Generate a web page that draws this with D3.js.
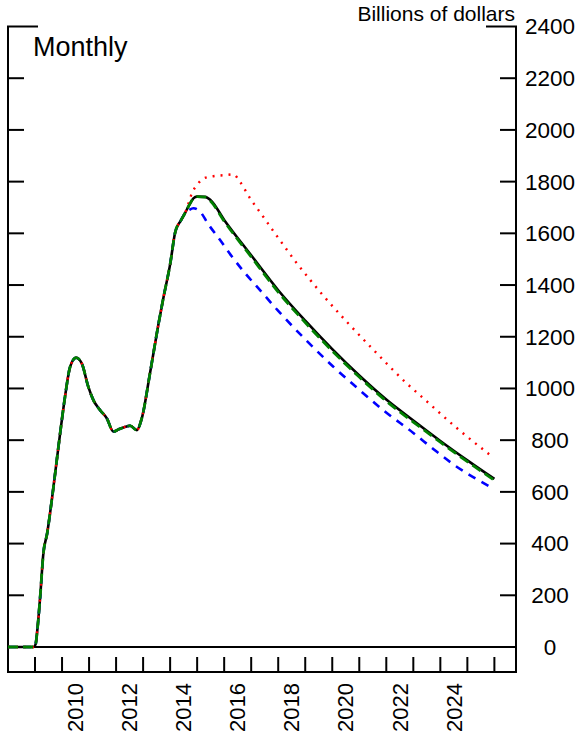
<!DOCTYPE html>
<html>
<head>
<meta charset="utf-8">
<script src="https://d3js.org/d3.v7.min.js"></script>
<style>
  body { margin: 0; background: #fff; }
  svg text { font-family: "Liberation Sans", Arial, sans-serif; fill: #000; }
</style>
</head>
<body>
<svg class="chart" width="583" height="733"></svg>
<script>
// shared path up to the point where the scenarios split
const commonYears = [2008.0, 2008.95, 2009.02, 2009.08, 2009.19, 2009.31, 2009.45, 2009.62, 2009.93, 2010.11,
  2010.30, 2010.52, 2010.73, 2010.97, 2011.16, 2011.41, 2011.66, 2011.9, 2012.1, 2012.35, 2012.52, 2012.77,
  2012.95, 2013.26, 2013.57, 2013.75, 2014.0, 2014.19, 2014.4, 2014.55];
const commonVals = [0, 0, 10, 60, 193, 363, 440, 568, 827, 968,
  1084, 1119, 1097, 1007, 955, 916, 884, 833, 842, 852, 856, 839,
  884, 1062, 1250, 1350, 1480, 1605, 1650, 1678];

// scenarios after the split
const blackYears = [2014.7, 2014.86, 2015.0, 2015.3, 2015.5, 2016, 2017, 2018, 2019, 2020, 2021, 2022, 2023, 2024, 2025, 2026];
const blackVals  = [1708, 1735, 1742, 1741, 1728, 1652, 1515, 1380, 1262, 1152, 1050, 957, 876, 797, 722, 650];

const greenYears = [2014.7, 2014.86, 2015.0, 2015.3, 2015.5, 2016, 2017, 2018, 2019, 2020, 2021, 2022, 2023, 2024, 2025, 2026];
const greenVals  = [1708, 1735, 1742, 1740, 1724, 1647, 1509, 1373, 1255, 1145, 1044, 951, 870, 792, 717, 645];

const redYears = [2014.7, 2014.8, 2014.99, 2015.23, 2015.6, 2016.0, 2016.34, 2016.6, 2016.96, 2017.4, 2017.83, 2018.26,
  2018.69, 2019.19, 2019.66, 2020.5, 2021.5, 2022.7, 2023.5, 2024.62, 2025.85];
const redVals  = [1722, 1754, 1786, 1812, 1821, 1825, 1828, 1797, 1735, 1671, 1607, 1545,
  1484, 1419, 1360, 1262, 1152, 1025, 950, 846, 742];

const blueYears = [2014.7, 2014.86, 2015.09, 2015.42, 2015.85, 2016.28, 2016.78, 2017.27, 2018, 2019, 2020, 2021,
  2021.96, 2023, 2023.75, 2024.5, 2025.8];
const blueVals  = [1690, 1697, 1686, 1634, 1574, 1511, 1445, 1387, 1300, 1190, 1088, 995,
  910, 828, 765, 705, 622];

const yTicks = [0, 200, 400, 600, 800, 1000, 1200, 1400, 1600, 1800, 2000, 2200, 2400];
const yearTicks = d3.range(2009, 2027);
const yearLabels = [2010, 2012, 2014, 2016, 2018, 2020, 2022, 2024];

const svg = d3.select(".chart");
const pLeft = 8, pRight = 516, pTop = 26.5, pZero = 647, pBottom = 672;

const xs = d3.scaleLinear().domain([2008, 2026.8]).range([pLeft, pRight]);
const ys = d3.scaleLinear().domain([0, 2400]).range([pZero, pTop]);

function build(years, vals) {
  const pts = commonYears.map((d, i) => [d, commonVals[i]]);
  return pts.concat(years.map((d, i) => [d, vals[i]]));
}

const line = d3.line()
  .x(d => xs(d[0]))
  .y(d => ys(d[1]))
  .curve(d3.curveMonotoneX);

// frame
const frame = svg.append("g").attr("stroke", "#000").attr("stroke-width", 2).attr("fill", "none");
frame.append("line").attr("x1", pLeft).attr("x2", pLeft).attr("y1", pTop).attr("y2", pBottom);
frame.append("line").attr("x1", pRight).attr("x2", pRight).attr("y1", pTop).attr("y2", pBottom);
frame.append("line").attr("x1", pLeft - 1).attr("x2", pLeft + 30).attr("y1", pTop).attr("y2", pTop);
frame.append("line").attr("x1", pRight - 30).attr("x2", pRight + 1).attr("y1", pTop).attr("y2", pTop);
frame.append("line").attr("x1", pLeft).attr("x2", pRight).attr("y1", pZero).attr("y2", pZero);
frame.append("line").attr("x1", pLeft - 1).attr("x2", pRight + 1).attr("y1", pBottom).attr("y2", pBottom);

// y ticks on both sides, pointing in
const yt = yTicks.filter(d => d > 0 && d < 2400);
frame.selectAll(".ltick").data(yt).join("line")
  .attr("x1", pLeft).attr("x2", pLeft + 16)
  .attr("y1", d => ys(d)).attr("y2", d => ys(d));
frame.selectAll(".rtick").data(yt).join("line")
  .attr("x1", pRight - 16).attr("x2", pRight)
  .attr("y1", d => ys(d)).attr("y2", d => ys(d));

// year ticks in the strip below the zero line
frame.selectAll(".xtick").data(yearTicks).join("line")
  .attr("x1", d => xs(d)).attr("x2", d => xs(d))
  .attr("y1", pBottom - 15).attr("y2", pBottom);

// y labels
svg.append("g").selectAll("text").data(yTicks).join("text")
  .attr("x", 550)
  .attr("y", d => ys(d))
  .attr("dy", "0.35em")
  .attr("text-anchor", "middle")
  .style("font-size", "22.5px")
  .text(d => d);

// year labels, rotated
svg.append("g").selectAll("text").data(yearLabels).join("text")
  .attr("transform", d => "translate(" + xs(d + 0.5) + ",683) rotate(-90)")
  .attr("dy", "0.35em")
  .attr("text-anchor", "end")
  .style("font-size", "22px")
  .text(d => d);

svg.append("text").attr("x", 515).attr("y", 21).attr("text-anchor", "end")
  .style("font-size", "21px").text("Billions of dollars");
svg.append("text").attr("x", 33).attr("y", 56)
  .style("font-size", "27px").text("Monthly");

// series
const lines = svg.append("g").attr("fill", "none");
lines.append("path").datum(build(blackYears, blackVals))
  .attr("stroke", "#000").attr("stroke-width", 2.6).attr("d", line);
lines.append("path").datum(build(blueYears, blueVals))
  .attr("stroke", "#0000ff").attr("stroke-width", 2.6)
  .attr("stroke-dasharray", "8,7").attr("d", line);
lines.append("path").datum(build(redYears, redVals))
  .attr("stroke", "#ff0000").attr("stroke-width", 2.4)
  .attr("stroke-dasharray", "2,6").attr("d", line);
lines.append("path").datum(build(greenYears, greenVals))
  .attr("stroke", "#008000").attr("stroke-width", 2.8)
  .attr("stroke-dasharray", "10,5").attr("d", line);
</script>
</body>
</html>
